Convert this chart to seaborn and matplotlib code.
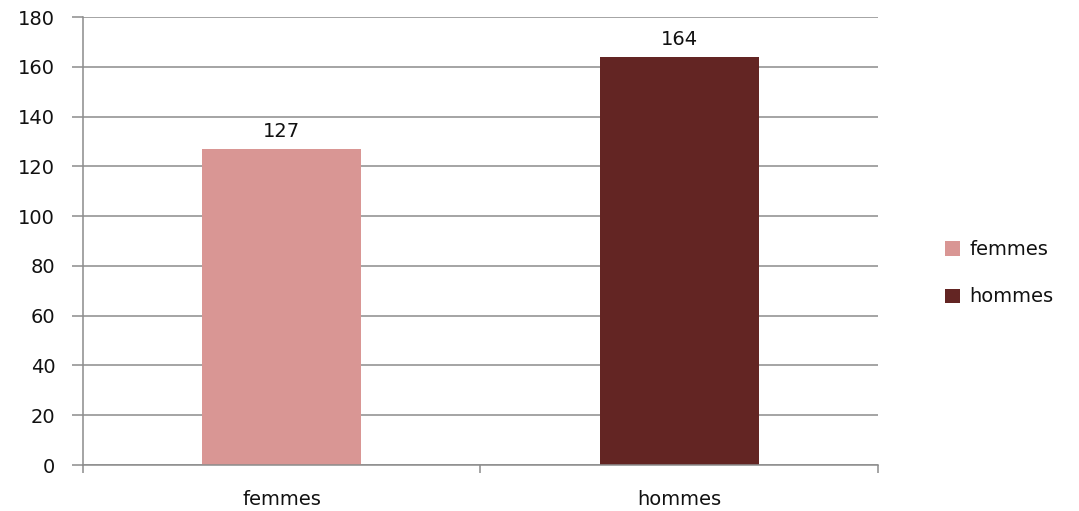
import matplotlib
matplotlib.use("Agg")
import matplotlib.pyplot as plt
import seaborn as sns
import pandas as pd
from matplotlib.patches import Patch

categories = ["femmes", "hommes"]
values = [127, 164]
colors = ["#D99694", "#632523"]

sns.set_style("white")
plt.rcParams['font.family'] = ['DejaVu Sans']
plt.rcParams['text.color'] = '#111111'

df = pd.DataFrame({"cat": categories, "val": values})

fig = plt.figure(figsize=(10.79, 5.11), dpi=100)
ax = fig.add_axes([0.0769, 0.090, 0.7368, 0.8767])

sns.barplot(data=df, x="cat", y="val", hue="cat", palette=colors, width=0.4,
            legend=False, ax=ax, saturation=1, linewidth=0, edgecolor="none")

ax.set_ylim(0, 180)
ax.set_xlim(-0.5, 1.5)
ax.set_yticks(range(0, 181, 20))
ax.yaxis.grid(True, color="#8c8c8c", linewidth=1.1)
ax.set_axisbelow(True)
for s in ["top", "right"]:
    ax.spines[s].set_visible(False)
for s in ["left", "bottom"]:
    ax.spines[s].set_color("#8c8c8c")
    ax.spines[s].set_linewidth(1.1)

fs = 14
ax.tick_params(axis="y", left=True, length=8, width=1.1, color="#8c8c8c",
               labelsize=fs, pad=12, labelcolor="#111111")
ax.tick_params(axis="x", which="major", bottom=False, length=0, labelsize=fs,
               pad=18, labelcolor="#111111")
ax.set_xticks([-0.5, 0.5, 1.5], minor=True)
ax.tick_params(axis="x", which="minor", bottom=True, length=6, width=1.1,
               color="#8c8c8c")
ax.set_xlabel("")
ax.set_ylabel("")

for c in ax.containers:
    ax.bar_label(c, fontsize=fs, padding=6, color="#111111")

handles = [Patch(facecolor=col, edgecolor="none", label=cat)
           for cat, col in zip(categories, colors)]
fig.legend(handles=handles, loc="center left", bbox_to_anchor=(0.860, 0.465),
           frameon=False, fontsize=fs, handlelength=0.75, handleheight=0.75,
           handletextpad=0.5, labelspacing=1.45, labelcolor="#111111")

fig.savefig("out.png", dpi=100)
